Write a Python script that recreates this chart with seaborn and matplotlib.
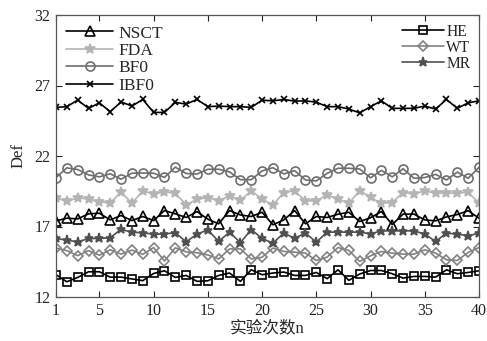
import matplotlib
matplotlib.use("Agg")
import matplotlib.pyplot as plt
import numpy as np
import pandas as pd
import seaborn as sns

runs = list(range(1, 41))

nsct = [17.40, 17.59, 17.54, 17.90, 17.94, 17.47, 17.78, 17.42, 17.71, 17.42,
        18.13, 17.90, 17.64, 18.06, 17.52, 17.19, 18.13, 17.82, 17.71, 18.01,
        17.12, 17.47, 18.13, 17.19, 17.71, 17.64, 17.87, 18.01, 17.35, 17.62,
        18.06, 17.14, 17.88, 17.88, 17.47, 17.40, 17.68, 17.85, 18.12, 17.59]
fda = [19.02, 18.79, 19.02, 18.96, 18.75, 18.66, 19.45, 18.65, 19.53, 19.30,
       19.45, 19.36, 18.55, 18.92, 19.05, 18.83, 19.18, 18.85, 19.53, 18.95,
       18.53, 19.41, 19.52, 18.82, 18.82, 19.24, 18.93, 18.65, 19.55, 19.07,
       18.65, 18.70, 19.41, 19.31, 19.52, 19.36, 19.36, 19.36, 19.43, 18.65]
bf0 = [20.47, 21.16, 21.04, 20.66, 20.52, 20.74, 20.35, 20.78, 20.79, 20.78,
       20.48, 21.21, 20.76, 20.72, 21.06, 21.06, 20.87, 20.32, 20.32, 20.94,
       21.17, 20.73, 20.96, 20.30, 20.23, 20.77, 21.13, 21.13, 21.08, 20.45,
       20.98, 20.52, 21.10, 20.42, 20.47, 20.70, 20.30, 20.86, 20.42, 21.20]
ibf0 = [25.45, 25.50, 25.96, 25.38, 25.77, 25.14, 25.84, 25.54, 26.01, 25.09,
        25.09, 25.80, 25.68, 26.01, 25.50, 25.54, 25.50, 25.50, 25.45, 25.96,
        25.91, 26.01, 25.89, 25.91, 25.82, 25.50, 25.50, 25.33, 25.06, 25.50,
        25.91, 25.38, 25.38, 25.38, 25.54, 25.33, 26.01, 25.38, 25.77, 25.91]
he = [13.58, 13.08, 13.39, 13.79, 13.79, 13.41, 13.41, 13.28, 13.16, 13.67,
      13.86, 13.39, 13.53, 13.11, 13.15, 13.53, 13.70, 13.11, 13.93, 13.58,
      13.70, 13.77, 13.53, 13.53, 13.74, 13.30, 13.93, 13.18, 13.63, 13.88,
      13.88, 13.65, 13.34, 13.46, 13.46, 13.41, 13.93, 13.65, 13.74, 13.86]
wt = [15.47, 15.29, 14.93, 15.29, 14.96, 15.35, 15.04, 15.33, 15.02, 15.51,
      14.55, 15.49, 15.20, 15.14, 14.98, 14.70, 15.41, 15.41, 14.70, 14.82,
      15.47, 15.23, 15.18, 15.11, 14.59, 14.83, 15.51, 15.30, 14.52, 14.92,
      15.23, 15.11, 15.04, 15.04, 15.35, 15.11, 14.64, 14.59, 15.16, 15.51]
mr = [16.15, 16.03, 15.91, 16.15, 16.15, 16.20, 16.81, 16.58, 16.57, 16.44,
      16.47, 16.56, 15.91, 16.46, 16.76, 15.94, 16.60, 15.85, 16.78, 16.15,
      15.82, 16.53, 16.17, 16.53, 15.89, 16.60, 16.60, 16.60, 16.60, 16.48,
      16.69, 16.69, 16.69, 16.69, 16.46, 15.94, 16.53, 16.46, 16.34, 16.53]

x_ticks = [1, 5, 10, 15, 20, 25, 30, 35, 40]
y_ticks = [12, 17, 22, 27, 32]

series = [
    ("NSCT", nsct, "^", "#000000", "none", 7),
    ("FDA", fda, "*", "#b4b4b4", "#b4b4b4", 7.5),
    ("BF0", bf0, "o", "#6e6e6e", "none", 6.5),
    ("IBF0", ibf0, "x", "#000000", "none", 5),
    ("HE", he, "s", "#000000", "none", 6),
    ("WT", wt, "D", "#828282", "none", 5),
    ("MR", mr, "*", "#505050", "#505050", 6.5),
]

sns.set_style("ticks")
plt.rcParams["font.family"] = ["Liberation Serif", "Noto Sans CJK SC"]

fig = plt.figure(figsize=(4.87, 3.41), dpi=100)
ax = fig.add_axes([56 / 487, 44 / 341, 423 / 487, 282 / 341])

for name, vals, mk, col, mfc, ms in series:
    df = pd.DataFrame({"run": runs, "val": vals})
    sns.lineplot(data=df, x="run", y="val", ax=ax, color=col, marker=mk,
                 markersize=ms, markerfacecolor=mfc, markeredgecolor=col,
                 markeredgewidth=1.2, linewidth=1.2, label=name)

ax.set_xlim(1, 40)
ax.set_ylim(12, 32)
ax.set_xticks(x_ticks)
ax.set_yticks(y_ticks)
ax.tick_params(direction="in", top=True, right=True, length=4, width=0.8,
               labelsize=11.5, colors="#222222", pad=4)
for s in ax.spines.values():
    s.set_color("#555555")
    s.set_linewidth(0.9)
    s.set_visible(True)

ax.set_xlabel("实验次数n", fontsize=12, labelpad=2)
ax.set_ylabel("Def", fontsize=12, labelpad=6)

handles, labels = ax.get_legend_handles_labels()
if ax.get_legend() is not None:
    ax.get_legend().remove()

leg1 = ax.legend(handles[:4], labels[:4], loc="upper left",
                 bbox_to_anchor=(0.0, 1.0), frameon=False, fontsize=12.5,
                 handlelength=2.7, handletextpad=0.3, labelspacing=0.07,
                 borderaxespad=0.3, borderpad=0.3)
ax.add_artist(leg1)
ax.legend(handles[4:], labels[4:], loc="upper right",
          bbox_to_anchor=(1.0, 1.0), frameon=False, fontsize=11.2,
          handlelength=2.7, handletextpad=0.15, labelspacing=0.0,
          borderaxespad=0.3, borderpad=0.25)

fig.savefig("out.png", dpi=100)
